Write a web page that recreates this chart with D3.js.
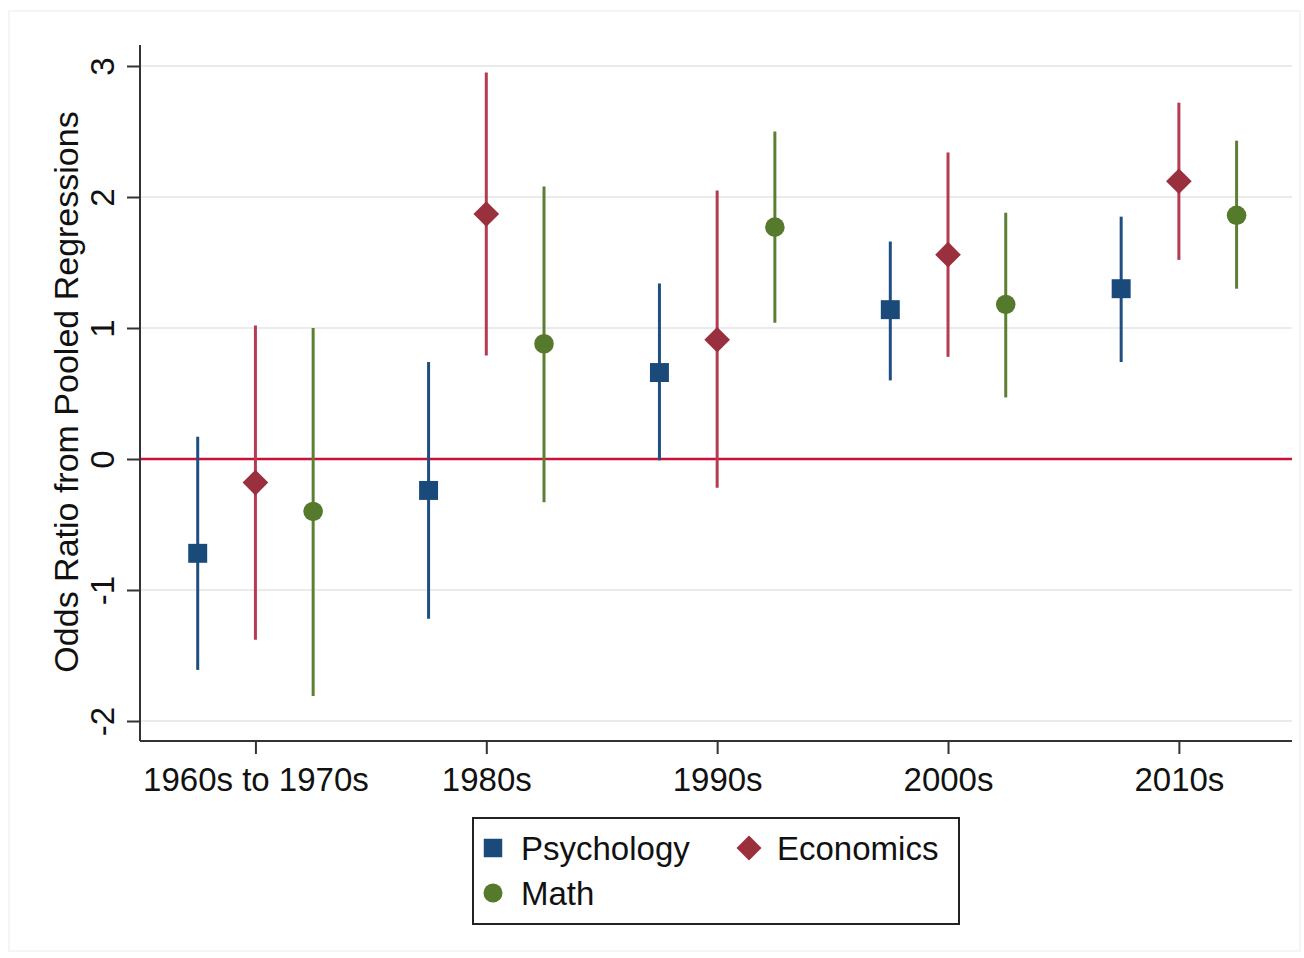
<!DOCTYPE html>
<html>
<head>
<meta charset="utf-8">
<script src="https://cdn.jsdelivr.net/npm/d3@7"></script>
<style>
  body { margin: 0; background: #fff; }
  text { font-family: "Liberation Sans", Arial, sans-serif; fill: #111; }
</style>
</head>
<body>
<div id="chart"></div>
<script>
// decades on the x axis
var decades = ["1960s to 1970s", "1980s", "1990s", "2000s", "2010s"];
var yTicks = [-2, -1, 0, 1, 2, 3];

// point estimate, upper and lower bound, one value per decade
var psychEst = [-0.72, -0.24, 0.66, 1.14, 1.30];
var psychHi  = [0.17, 0.74, 1.34, 1.66, 1.85];
var psychLo  = [-1.61, -1.22, -0.01, 0.60, 0.74];

var econEst = [-0.18, 1.87, 0.91, 1.56, 2.12];
var econHi  = [1.02, 2.95, 2.05, 2.34, 2.72];
var econLo  = [-1.38, 0.79, -0.22, 0.78, 1.52];

var mathEst = [-0.40, 0.88, 1.77, 1.18, 1.86];
var mathHi  = [1.00, 2.08, 2.50, 1.88, 2.43];
var mathLo  = [-1.81, -0.33, 1.04, 0.47, 1.30];

var series = [
  {name: "Psychology", est: psychEst, hi: psychHi, lo: psychLo, shift: -0.25,
   mark: "#1a4a7a", line: "#1f4e80", shape: d3.symbolSquare, size: 360},
  {name: "Economics", est: econEst, hi: econHi, lo: econLo, shift: 0,
   mark: "#9a2f3d", line: "#b53a52", shape: d3.symbolDiamond2, size: 420},
  {name: "Math", est: mathEst, hi: mathHi, lo: mathLo, shift: 0.25,
   mark: "#557a2c", line: "#5c8032", shape: d3.symbolCircle, size: 300}
];

var W = 1304, H = 958;
var svg = d3.select("#chart").append("svg")
    .attr("width", W).attr("height", H);

// faint outer frame
svg.append("rect").attr("x", 9).attr("y", 11).attr("width", 1291).attr("height", 940)
    .attr("fill", "none").attr("stroke", "#f2f2f2").attr("stroke-width", 1.5);

var x = d3.scaleLinear().domain([-0.5, 4.49]).range([140, 1292]);
var y = d3.scaleLinear().domain([-2, 3]).range([721, 66]);
var yBottom = 741, yTop = 45;

// grid
svg.append("g").selectAll("line")
    .data(yTicks.filter(function (d) { return d !== 0; }))
    .enter().append("line")
    .attr("x1", 141).attr("x2", 1292)
    .attr("y1", function (d) { return y(d); })
    .attr("y2", function (d) { return y(d); })
    .attr("stroke", "#ebebeb").attr("stroke-width", 2);

// y axis, labels turned on their side
var yAxis = svg.append("g").attr("transform", "translate(140,0)")
    .call(d3.axisLeft(y).tickValues(yTicks).tickSize(13)
        .tickFormat(function (d) { return String(d); }));
yAxis.select(".domain").attr("d", "M0," + yTop + "V" + yBottom).attr("stroke", "#333").attr("stroke-width", 2);
yAxis.selectAll(".tick line").attr("stroke", "#333").attr("stroke-width", 2);
yAxis.selectAll(".tick text")
    .attr("font-size", 33).attr("fill", "#111")
    .attr("text-anchor", "middle")
    .attr("transform", "rotate(-90)")
    .attr("x", 0).attr("y", -38).attr("dy", "0.35em");

// x axis
var xAxis = svg.append("g").attr("transform", "translate(0," + yBottom + ")")
    .call(d3.axisBottom(x).tickValues(d3.range(decades.length)).tickSize(13).tickPadding(14)
        .tickFormat(function (d) { return decades[d]; }));
xAxis.select(".domain").attr("d", "M140,0H1292").attr("stroke", "#333").attr("stroke-width", 2);
xAxis.selectAll(".tick line").attr("stroke", "#333").attr("stroke-width", 2);
xAxis.selectAll(".tick text").attr("font-size", 33).attr("fill", "#111");

// y title
svg.append("text")
    .attr("transform", "translate(66," + ((yTop + yBottom) / 2 - 1) + ") rotate(-90)")
    .attr("text-anchor", "middle").attr("dy", "0.35em")
    .attr("font-size", 34)
    .text("Odds Ratio from Pooled Regressions");

// zero reference line
svg.append("line")
    .attr("x1", 141).attr("x2", 1292)
    .attr("y1", y(0)).attr("y2", y(0))
    .attr("stroke", "#c8123c").attr("stroke-width", 2.5);

// error bars and markers
series.forEach(function (s) {
  var g = svg.append("g");
  g.selectAll("line").data(decades).enter().append("line")
      .attr("x1", function (d, i) { return x(i + s.shift); })
      .attr("x2", function (d, i) { return x(i + s.shift); })
      .attr("y1", function (d, i) { return y(s.hi[i]); })
      .attr("y2", function (d, i) { return y(s.lo[i]); })
      .attr("stroke", s.line).attr("stroke-width", 3);
  g.selectAll("path").data(decades).enter().append("path")
      .attr("d", d3.symbol().type(s.shape).size(s.size))
      .attr("transform", function (d, i) { return "translate(" + x(i + s.shift) + "," + y(s.est[i]) + ")"; })
      .attr("fill", s.mark);
});

// legend
var lg = svg.append("g");
lg.append("rect").attr("x", 473).attr("y", 818).attr("width", 486).attr("height", 106)
    .attr("fill", "#fff").attr("stroke", "#222").attr("stroke-width", 2);
var legendPos = [[493, 848], [749, 848], [493, 893]];
series.forEach(function (s, i) {
  var p = legendPos[i];
  lg.append("path")
      .attr("d", d3.symbol().type(s.shape).size(s.size * 0.95))
      .attr("transform", "translate(" + p[0] + "," + p[1] + ")")
      .attr("fill", s.mark);
  lg.append("text").attr("x", p[0] + 28).attr("y", p[1]).attr("dy", "0.35em")
      .attr("font-size", 33).text(s.name);
});
</script>
</body>
</html>
